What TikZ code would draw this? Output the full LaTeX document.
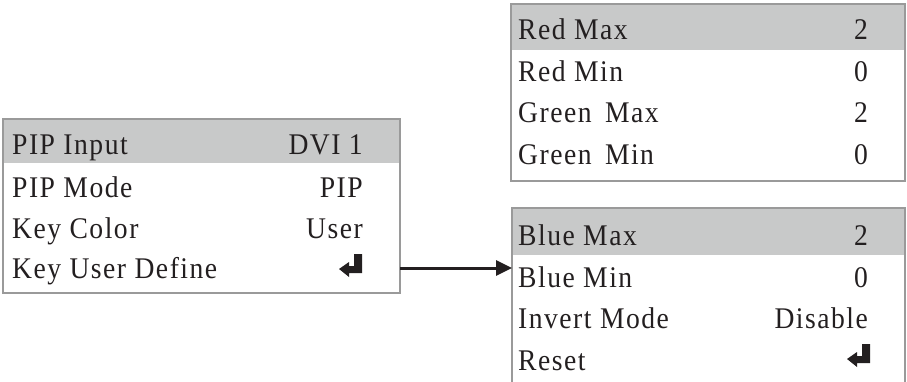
\documentclass[tikz,border=0pt]{standalone}
\usepackage{fontspec}
\setmainfont{Liberation Serif}[LetterSpace=5, FakeStretch=0.92]
\usetikzlibrary{arrows.meta,calc}
\definecolor{hdr}{HTML}{C8C9C9}
\definecolor{frame}{HTML}{9A9A9A}
\definecolor{ink}{HTML}{231F20}
\tikzset{
  holder/.style={inner sep=0pt, outer sep=0pt},
  label/.style={anchor=base west, inner sep=0pt, text=ink, font=\fontsize{30}{33}\selectfont},
  value/.style={anchor=base east, inner sep=0pt, text=ink, font=\fontsize{30}{33}\selectfont},
  outline/.style={draw=frame, line width=1.3pt},
  conn/.style={draw=ink, line width=3pt, -{Triangle[length=16pt,width=15pt]}},
  enter/.pic={
    \fill[ink] (-8,-23) -- (0,-23) -- (0,-4) -- (-13,-4) -- (-13,0)
      -- (-23,-8) -- (-13,-15) -- (-13,-11) -- (-8,-11) -- cycle;
  }
}
\begin{document}
\begin{tikzpicture}[x=1pt, y=-1pt]
\useasboundingbox (0,0) rectangle (907,382);

% ---- PIP menu ----
\node[holder, minimum width=397pt, minimum height=174pt] (pipbox) at (201.5,206) {};
\fill[hdr] (pipbox.north west) rectangle ($(pipbox.north east)+(0,44)$);
\draw[outline] (pipbox.north west) rectangle (pipbox.south east);
\node[label] (pipin)  at (12,155) {PIP Input};
\node[value] (pipinv) at (363,155) {DVI 1};
\node[label] (pipmode)  at (12,197) {PIP Mode};
\node[value] (pipmodev) at (363,197) {PIP};
\node[label] (keycol)  at (12,238) {Key Color};
\node[value] (keycolv) at (363,238) {User};
\node[label] (keyuser) at (12,278) {Key User Define};
\pic (keyuserv) at (362,277) {enter};

% ---- Red / Green limits ----
\node[holder, minimum width=394pt, minimum height=177pt] (rgbox) at (708,92.5) {};
\fill[hdr] (rgbox.north west) rectangle ($(rgbox.north east)+(0,46)$);
\draw[outline] (rgbox.north west) rectangle (rgbox.south east);
\node[label] (redmax)  at (518,40) {Red Max};
\node[value] (redmaxv) at (868,40) {2};
\node[label] (redmin)  at (518,82) {Red Min};
\node[value] (redminv) at (868,82) {0};
\node[label] (grnmax)  at (518,123) {Green\, Max};
\node[value] (grnmaxv) at (868,123) {2};
\node[label] (grnmin)  at (518,165) {Green\, Min};
\node[value] (grnminv) at (868,165) {0};

% ---- Blue limits and options (runs on below) ----
\node[holder, minimum width=393pt, minimum height=174pt] (bluebox) at (708.5,295) {};
\fill[hdr] (bluebox.north west) rectangle ($(bluebox.north east)+(0,47)$);
\draw[outline] (bluebox.south west) -- (bluebox.north west)
  -- (bluebox.north east) -- (bluebox.south east);
\node[label] (bluemax)  at (518,245) {Blue Max};
\node[value] (bluemaxv) at (868,245) {2};
\node[label] (bluemin)  at (518,287) {Blue Min};
\node[value] (blueminv) at (868,287) {0};
\node[label] (invert)  at (518,328) {Invert Mode};
\node[value] (invertv) at (868,328) {Disable};
\node[label] (reset) at (518,370) {Reset};
\pic (resetv) at (870,367) {enter};

% ---- connector ----
\coordinate (lvl) at (0,268);
\draw[conn] (pipbox.east |- lvl) -- (bluebox.west |- lvl);
\end{tikzpicture}
\end{document}
